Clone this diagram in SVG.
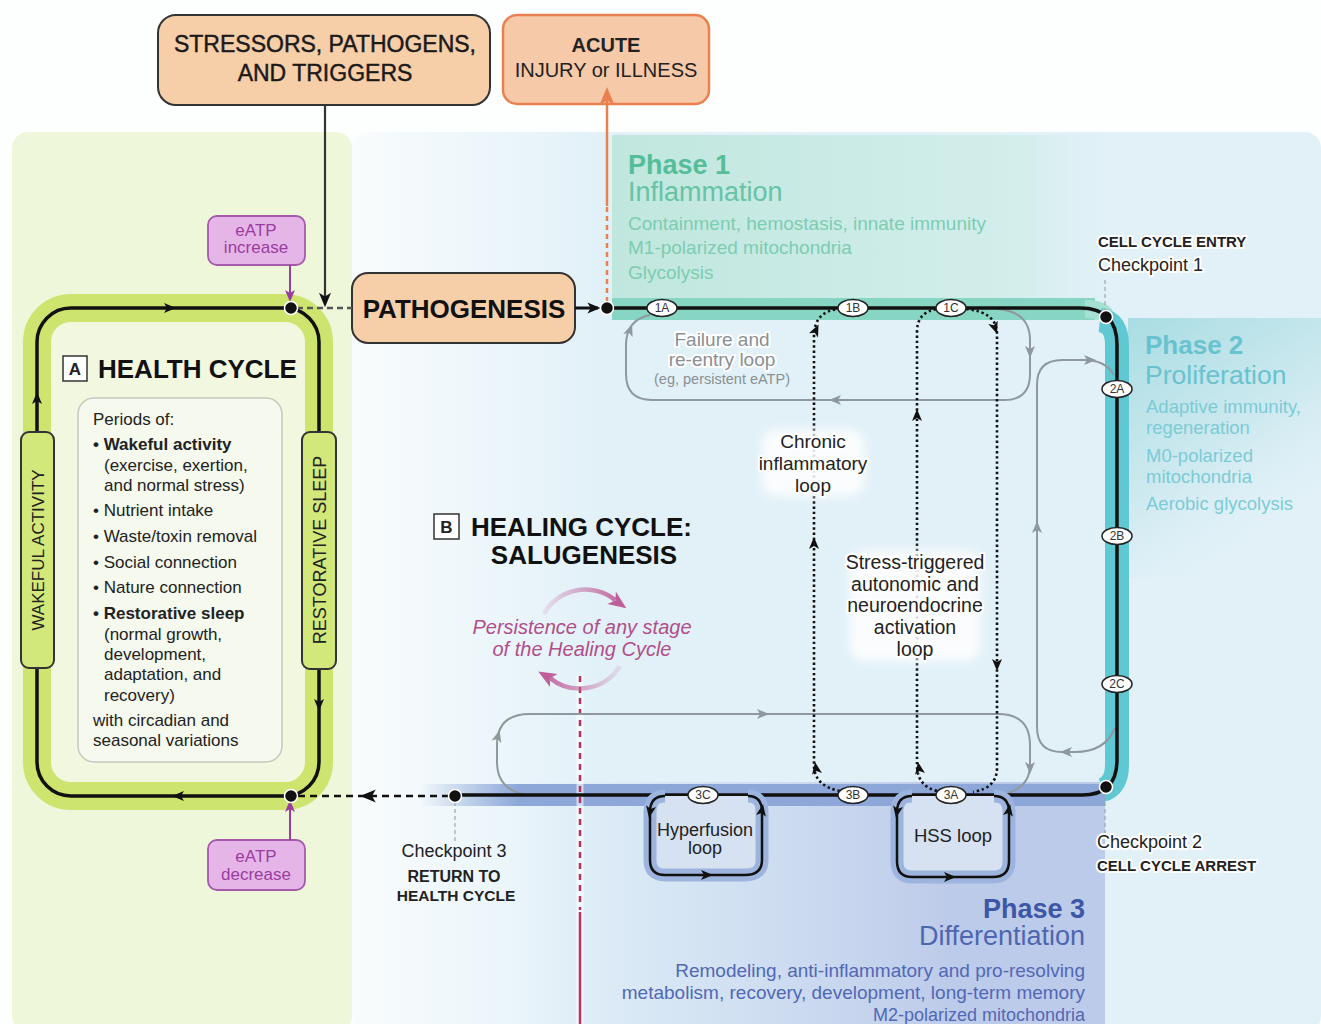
<svg xmlns="http://www.w3.org/2000/svg" width="1321" height="1024" viewBox="0 0 1321 1024">
<defs>
<style>
text{font-family:"Liberation Sans",Arial,sans-serif;}
.t{fill:#222;font-size:17px}
.b{font-weight:bold}
.mid{text-anchor:middle}
.end{text-anchor:end}
.halo{paint-order:stroke;stroke:#fff;stroke-width:4;stroke-linejoin:round}
.gray{fill:none;stroke:#8e989e;stroke-width:2}
.dot{fill:none;stroke:#111;stroke-width:2.6;stroke-dasharray:2.4 2.8}
.track{fill:none;stroke:#111;stroke-width:3.5}
.lab{fill:#fff;stroke:#222;stroke-width:1.5}
.labt{font-size:12px;fill:#333;text-anchor:middle}
.peach{fill:#f6cfa9;stroke:#333;stroke-width:2}
.eatp{fill:#e6b5e8;stroke:#a55aab;stroke-width:1.8}
.eatpt{fill:#9a3ca0;font-size:17px;text-anchor:middle}
.node{fill:#111;stroke:#fff;stroke-width:1.5}
.p1{fill:#55bd9a}
.p1d{fill:#7ccdb1;font-size:19px}
.p2{fill:#69c3cf}
.p2d{fill:#7ccbd6;font-size:18.5px}
.p3{fill:#3c57a5}
.p3d{fill:#5068b5;font-size:19px}
.ckl{fill:none;stroke:#9aa;stroke-width:1.2;stroke-dasharray:4 3}
.glow{fill:#fff;opacity:0.85;filter:url(#soft)}
.heavy{stroke:#1a1a1a;stroke-width:0.45}
</style>
<filter id="soft" x="-30%" y="-30%" width="160%" height="160%"><feGaussianBlur stdDeviation="5"/></filter>
<path id="ah" d="M6,0 L-6,-5 L-3,0 L-6,5 Z"/>
<linearGradient id="bluebg" x1="352" y1="0" x2="600" y2="0" gradientUnits="userSpaceOnUse">
<stop offset="0" stop-color="#f9fcfd"/><stop offset="1" stop-color="#e2f1f8"/>
</linearGradient>
<linearGradient id="p1g" x1="612" y1="0" x2="1125" y2="0" gradientUnits="userSpaceOnUse">
<stop offset="0" stop-color="#c0e7de"/><stop offset="0.8" stop-color="#d3eeec"/><stop offset="1" stop-color="#dff1f4" stop-opacity="0"/>
</linearGradient>
<linearGradient id="p2g" x1="0" y1="0" x2="0.5" y2="1">
<stop offset="0" stop-color="#a9dde3"/><stop offset="0.6" stop-color="#cfeaf0"/><stop offset="1" stop-color="#e2f1f8" stop-opacity="0"/>
</linearGradient>
<linearGradient id="p3g" x1="520" y1="0" x2="950" y2="0" gradientUnits="userSpaceOnUse">
<stop offset="0" stop-color="#c4d3ee" stop-opacity="0"/><stop offset="1" stop-color="#bdcbea"/>
</linearGradient>
<linearGradient id="p3band" x1="420" y1="0" x2="520" y2="0" gradientUnits="userSpaceOnUse">
<stop offset="0" stop-color="#8ca7d8" stop-opacity="0"/><stop offset="1" stop-color="#8ca7d8"/>
</linearGradient>
<linearGradient id="pinkU" x1="540" y1="0" x2="625" y2="0" gradientUnits="userSpaceOnUse">
<stop offset="0" stop-color="#c56fa0" stop-opacity="0.1"/><stop offset="1" stop-color="#c0609a"/>
</linearGradient>
<linearGradient id="pinkL" x1="625" y1="0" x2="540" y2="0" gradientUnits="userSpaceOnUse">
<stop offset="0" stop-color="#c56fa0" stop-opacity="0.1"/><stop offset="1" stop-color="#c0609a"/>
</linearGradient>
</defs>

<!-- backgrounds -->
<rect x="0" y="0" width="1321" height="1024" fill="#fdfefe"/>
<rect x="352" y="132" width="969" height="900" rx="16" fill="url(#bluebg)"/>
<rect x="12" y="132" width="340" height="900" rx="16" fill="#eef7d9"/>
<rect x="612" y="135" width="513" height="185" fill="url(#p1g)"/>
<rect x="1128" y="318" width="193" height="260" fill="url(#p2g)"/>
<rect x="470" y="782" width="635" height="250" fill="url(#p3g)"/>

<!-- track bands -->
<g id="bands">
<rect x="612" y="298" width="483" height="22" fill="#86d6c3"/>
<path d="M1085,309 Q1104,309 1106,318" fill="none" stroke="#a6e0d2" stroke-width="18"/>
<path d="M1100,320 Q1117,322 1117,345 V765 Q1117,786 1102,790" fill="none" stroke="#60c8d3" stroke-width="24"/>
<rect x="420" y="784" width="685" height="22" fill="url(#p3band)"/>
</g>

<!-- health cycle -->
<g id="health-cycle">
<rect x="37" y="308" width="282" height="488" rx="34" fill="#f1f8df" stroke="#cde46f" stroke-width="28"/>
<rect x="37" y="308" width="282" height="488" rx="34" class="track"/>
<use href="#ah" transform="translate(170,308)" fill="#111"/>
<use href="#ah" transform="translate(37,398) rotate(-90)" fill="#111"/>
<use href="#ah" transform="translate(319,705) rotate(90)" fill="#111"/>
<use href="#ah" transform="translate(178,796) rotate(180)" fill="#111"/>
<rect x="63" y="356" width="24" height="25" fill="#fff" stroke="#333" stroke-width="1.5"/>
<text x="75" y="375" class="t b mid" style="font-size:17px">A</text>
<text x="98" y="378" class="t b" style="font-size:26px;fill:#111">HEALTH CYCLE</text>
<rect x="78" y="398" width="204" height="364" rx="16" fill="#f5f9ee" stroke="#c4c8bd" stroke-width="1.5"/>
<text class="t" x="93" y="425">Periods of:</text>
<text class="t b" x="93" y="450">• Wakeful activity</text>
<text class="t" x="104" y="471">(exercise, exertion,</text>
<text class="t" x="104" y="491">and normal stress)</text>
<text class="t" x="93" y="516">• Nutrient intake</text>
<text class="t" x="93" y="542">• Waste/toxin removal</text>
<text class="t" x="93" y="568">• Social connection</text>
<text class="t" x="93" y="593">• Nature connection</text>
<text class="t b" x="93" y="619">• Restorative sleep</text>
<text class="t" x="104" y="640">(normal growth,</text>
<text class="t" x="104" y="660">development,</text>
<text class="t" x="104" y="680">adaptation, and</text>
<text class="t" x="104" y="701">recovery)</text>
<text class="t" x="93" y="726">with circadian and</text>
<text class="t" x="93" y="746">seasonal variations</text>
</g>
<g id="wakeful">
<rect x="21" y="432" width="33" height="236" rx="8" fill="#d3e87a" stroke="#333" stroke-width="2"/>
<text class="t mid" transform="translate(44,550) rotate(-90)" style="font-size:17px">WAKEFUL  ACTIVITY</text>
</g>
<g id="restorative">
<rect x="302" y="432" width="34" height="237" rx="8" fill="#d3e87a" stroke="#333" stroke-width="2"/>
<text class="t mid" transform="translate(326,550) rotate(-90)" style="font-size:18px">RESTORATIVE SLEEP</text>
</g>

<!-- top boxes -->
<g id="stressors">
<rect x="158" y="15" width="332" height="90" rx="18" class="peach"/>
<text class="t mid heavy" x="325" y="52" style="font-size:23px;fill:#1a1a1a">STRESSORS, PATHOGENS,</text>
<text class="t mid heavy" x="325" y="81" style="font-size:23px;fill:#1a1a1a">AND TRIGGERS</text>
</g>
<g id="acute">
<rect x="503" y="15" width="206" height="89" rx="14" fill="#f6caa9" stroke="#e9804f" stroke-width="2.5"/>
<text class="t mid b" x="606" y="52" style="font-size:20px">ACUTE</text>
<text class="t mid" x="606" y="77" style="font-size:20px">INJURY or ILLNESS</text>
</g>
<g id="eatp-increase">
<rect x="208" y="216" width="97" height="49" rx="9" class="eatp"/>
<text class="eatpt" x="256" y="236">eATP</text>
<text class="eatpt" x="256" y="253">increase</text>
</g>
<g id="eatp-decrease">
<rect x="208" y="840" width="97" height="50" rx="9" class="eatp"/>
<text class="eatpt" x="256" y="862">eATP</text>
<text class="eatpt" x="256" y="880">decrease</text>
</g>
<g id="pathogenesis">
<rect x="352" y="273" width="223" height="70" rx="16" class="peach"/>
<text class="t b mid" x="464" y="318" style="font-size:26px;fill:#111">PATHOGENESIS</text>
</g>

<!-- phase texts -->
<g id="phase1">
<text x="628" y="174" class="p1 b" style="font-size:27px">Phase 1</text>
<text x="628" y="201" style="font-size:27px;fill:#66c3a6">Inflammation</text>
<text x="628" y="230" class="p1d">Containment, hemostasis, innate immunity</text>
<text x="628" y="254" class="p1d">M1-polarized mitochondria</text>
<text x="628" y="279" class="p1d">Glycolysis</text>
</g>
<g id="phase2">
<text x="1145" y="354" class="p2 b" style="font-size:26px">Phase 2</text>
<text x="1145" y="384" class="p2" style="font-size:26.5px">Proliferation</text>
<text x="1146" y="413" class="p2d">Adaptive immunity,</text>
<text x="1146" y="434" class="p2d">regeneration</text>
<text x="1146" y="462" class="p2d">M0-polarized</text>
<text x="1146" y="483" class="p2d">mitochondria</text>
<text x="1146" y="510" class="p2d">Aerobic glycolysis</text>
</g>
<g id="phase3">
<text x="1085" y="918" class="p3 b end" style="font-size:27px">Phase 3</text>
<text x="1085" y="945" class="end" style="font-size:27px;fill:#4d66b0">Differentiation</text>
<text x="1085" y="977" class="p3d end">Remodeling, anti-inflammatory and pro-resolving</text>
<text x="1085" y="999" class="p3d end">metabolism, recovery, development, long-term memory</text>
<text x="1085" y="1021" class="p3d end" style="font-size:18px">M2-polarized mitochondria</text>
</g>

<!-- connectors -->
<g id="connectors">
<line x1="580" y1="676" x2="580" y2="1024" stroke="#fff" stroke-width="7" opacity="0.6"/>
<line x1="580" y1="676" x2="580" y2="910" stroke="#b8325e" stroke-width="2.5" stroke-dasharray="6 5"/>
<line x1="580" y1="912" x2="580" y2="1024" stroke="#b8325e" stroke-width="2.5"/>

<path class="gray" d="M650,315 Q626,320 626,345 V374 Q626,400 652,400 H1004 Q1030,400 1030,374 V340 Q1030,312 998,309"/>
<use href="#ah" transform="translate(630,330) rotate(-70)" fill="#8e989e"/>
<use href="#ah" transform="translate(835,400) rotate(180)" fill="#8e989e"/>
<use href="#ah" transform="translate(1030,352) rotate(90)" fill="#8e989e"/>
<path class="gray" d="M1115,728 Q1105,752 1075,752 H1062 Q1037,752 1037,727 V385 Q1037,360 1062,360 H1085 Q1105,360 1114,375"/>
<use href="#ah" transform="translate(1090,360)" fill="#8e989e"/>
<use href="#ah" transform="translate(1037,527) rotate(-90)" fill="#8e989e"/>
<use href="#ah" transform="translate(1066,752) rotate(180)" fill="#8e989e"/>
<path class="gray" d="M1008,793 Q1030,786 1030,765 V745 Q1030,714 998,714 H530 Q497,714 497,745 V762 Q497,790 527,795"/>
<use href="#ah" transform="translate(498,736) rotate(-75)" fill="#8e989e"/>
<use href="#ah" transform="translate(763,714)" fill="#8e989e"/>
<use href="#ah" transform="translate(1030,768) rotate(90)" fill="#8e989e"/>

<path class="track" d="M607,308 H1080 Q1117,308 1117,345 V760 Q1117,795 1082,795 H455"/>
<line x1="297" y1="308" x2="352" y2="308" stroke="#555" stroke-width="2.5" stroke-dasharray="6 4"/>
<line x1="575" y1="308" x2="598" y2="308" stroke="#111" stroke-width="3"/>
<use href="#ah" transform="translate(594,308) scale(1.1)" fill="#111"/>
<line x1="449" y1="796" x2="297" y2="796" stroke="#111" stroke-width="2.5" stroke-dasharray="7 5"/>
<use href="#ah" transform="translate(368,796) rotate(180) scale(1.3)" fill="#111"/>

<line x1="325" y1="105" x2="325" y2="298" stroke="#333" stroke-width="2.2"/>
<use href="#ah" transform="translate(325,300) rotate(90) scale(1.2)" fill="#111"/>
<line x1="607" y1="302" x2="607" y2="205" stroke="#e9804f" stroke-width="2.5" stroke-dasharray="5 4"/>
<line x1="607" y1="206" x2="607" y2="100" stroke="#e9804f" stroke-width="2.5"/>
<use href="#ah" transform="translate(607,96) rotate(-90) scale(1.5)" fill="#e9804f"/>
<line x1="290" y1="265" x2="290" y2="295" stroke="#9a3ca0" stroke-width="2"/>
<use href="#ah" transform="translate(290,296) rotate(90)" fill="#9a3ca0"/>
<line x1="290" y1="840" x2="290" y2="808" stroke="#9a3ca0" stroke-width="2"/>
<use href="#ah" transform="translate(290,806) rotate(-90)" fill="#9a3ca0"/>

<path class="dot" d="M840,791 Q814,786 814,765 V336 Q814,312 838,309"/>
<use href="#ah" transform="translate(816,768) rotate(-100)" fill="#111"/>
<use href="#ah" transform="translate(814,543) rotate(-90)" fill="#111"/>
<use href="#ah" transform="translate(816,330) rotate(-65)" fill="#111"/>
<path class="dot" d="M937,791 Q917,786 917,765 V332 Q917,312 937,309"/>
<use href="#ah" transform="translate(919,768) rotate(-100)" fill="#111"/>
<use href="#ah" transform="translate(917,415) rotate(-90)" fill="#111"/>
<path class="dot" d="M966,309 Q997,312 997,334 V768 Q997,788 973,792"/>
<use href="#ah" transform="translate(995,328) rotate(70)" fill="#111"/>
<use href="#ah" transform="translate(997,665) rotate(90)" fill="#111"/>

<line class="ckl" x1="1105" y1="280" x2="1105" y2="311"/>
<line class="ckl" x1="1105" y1="795" x2="1105" y2="833"/>
<line class="ckl" x1="455" y1="802" x2="455" y2="842"/>

<path d="M544,614 A46,44 0 0 1 615,600" fill="none" stroke="url(#pinkU)" stroke-width="4.5"/>
<use href="#ah" transform="translate(619,603) rotate(35) scale(1.5)" fill="#c0609a"/>
<path d="M620,666 A46,44 0 0 1 550,678" fill="none" stroke="url(#pinkL)" stroke-width="4.5"/>
<use href="#ah" transform="translate(546,676) rotate(-150) scale(1.5)" fill="#c0609a"/>
</g>

<g id="hyperfusion">
<path d="M665,796 Q650,796 650,812 V860 Q650,875 665,875 H745 Q762,875 762,860 V812 Q762,796 748,796" fill="#d6e1f2" stroke="#9db4de" stroke-width="13"/>
<path d="M665,796 Q650,796 650,812 V860 Q650,875 665,875 H745 Q762,875 762,860 V812 Q762,796 748,796" fill="none" stroke="#111" stroke-width="2.5"/>
<use href="#ah" transform="translate(650,812) rotate(100)" fill="#111"/>
<use href="#ah" transform="translate(762,810) rotate(-80)" fill="#111"/>
<use href="#ah" transform="translate(707,875)" fill="#111"/>
<text class="t mid" x="705" y="836" style="font-size:18px">Hyperfusion</text>
<text class="t mid" x="705" y="854" style="font-size:18px">loop</text>
</g>
<g id="hss">
<path d="M912,796 Q897,796 897,812 V861 Q897,877 912,877 H993 Q1009,877 1009,861 V812 Q1009,796 994,796" fill="#d6e1f2" stroke="#9db4de" stroke-width="13"/>
<path d="M912,796 Q897,796 897,812 V861 Q897,877 912,877 H993 Q1009,877 1009,861 V812 Q1009,796 994,796" fill="none" stroke="#111" stroke-width="2.5"/>
<use href="#ah" transform="translate(897,812) rotate(100)" fill="#111"/>
<use href="#ah" transform="translate(1009,810) rotate(-80)" fill="#111"/>
<use href="#ah" transform="translate(950,877)" fill="#111"/>
<text class="t mid" x="953" y="842" style="font-size:18.5px">HSS loop</text>
</g>

<g id="checkpoints">
<circle class="node" cx="291" cy="308" r="6.5"/>
<circle class="node" cx="291" cy="796" r="6.5"/>
<circle class="node" cx="607" cy="308" r="6.5"/>
<circle class="node" cx="1106" cy="317" r="6.5"/>
<circle class="node" cx="1106" cy="787" r="6.5"/>
<circle class="node" cx="455" cy="796" r="6.5"/>
</g>
<g id="stage-labels">
<ellipse class="lab" cx="662" cy="308" rx="15" ry="8.5"/><text class="labt" x="662" y="312">1A</text>
<ellipse class="lab" cx="853" cy="308" rx="15" ry="8.5"/><text class="labt" x="853" y="312">1B</text>
<ellipse class="lab" cx="951" cy="308" rx="15" ry="8.5"/><text class="labt" x="951" y="312">1C</text>
<ellipse class="lab" cx="1117" cy="389" rx="15" ry="8.5"/><text class="labt" x="1117" y="393">2A</text>
<ellipse class="lab" cx="1117" cy="536" rx="15" ry="8.5"/><text class="labt" x="1117" y="540">2B</text>
<ellipse class="lab" cx="1117" cy="684" rx="15" ry="8.5"/><text class="labt" x="1117" y="688">2C</text>
<ellipse class="lab" cx="703" cy="795" rx="15" ry="8.5"/><text class="labt" x="703" y="799">3C</text>
<ellipse class="lab" cx="853" cy="795" rx="15" ry="8.5"/><text class="labt" x="853" y="799">3B</text>
<ellipse class="lab" cx="951" cy="795" rx="15" ry="8.5"/><text class="labt" x="951" y="799">3A</text>
</g>

<g id="failure-label">
<text class="mid halo" x="722" y="346" style="font-size:19px;fill:#8a8f93">Failure and</text>
<text class="mid halo" x="722" y="366" style="font-size:19px;fill:#8a8f93">re-entry loop</text>
<text class="mid" x="722" y="384" style="font-size:14.5px;fill:#8a8f93">(eg, persistent eATP)</text>
</g>
<g id="chronic-label">
<rect class="glow" x="762" y="430" width="102" height="66" rx="14"/>
<text class="t mid halo" x="813" y="448" style="font-size:19px">Chronic</text>
<text class="t mid halo" x="813" y="470" style="font-size:19px">inflammatory</text>
<text class="t mid halo" x="813" y="492" style="font-size:19px">loop</text>
</g>
<g id="stress-label">
<rect class="glow" x="850" y="551" width="130" height="110" rx="14"/>
<text class="t mid halo" x="915" y="569" style="font-size:19.5px">Stress-triggered</text>
<text class="t mid halo" x="915" y="591" style="font-size:19.5px">autonomic and</text>
<text class="t mid halo" x="915" y="612" style="font-size:19.5px">neuroendocrine</text>
<text class="t mid halo" x="915" y="634" style="font-size:19.5px">activation</text>
<text class="t mid halo" x="915" y="656" style="font-size:19.5px">loop</text>
</g>
<g id="healing-title">
<rect x="434" y="514" width="25" height="25" fill="#fff" stroke="#333" stroke-width="1.5"/>
<text x="446.5" y="533" class="t b mid" style="font-size:17px">B</text>
<text x="471" y="536" class="t b" style="font-size:26px;fill:#111">HEALING CYCLE:</text>
<text x="584" y="564" class="t b mid" style="font-size:26px;fill:#111">SALUGENESIS</text>
</g>
<g id="persistence">
<text x="582" y="634" class="mid" style="font-size:20px;font-style:italic;fill:#b04e8a">Persistence of any stage</text>
<text x="582" y="656" class="mid" style="font-size:20px;font-style:italic;fill:#b04e8a">of the Healing Cycle</text>
</g>
<g id="checkpoint1">
<text x="1098" y="247" class="t b halo" style="font-size:15px">CELL CYCLE ENTRY</text>
<text x="1098" y="271" class="t halo" style="font-size:18px">Checkpoint 1</text>
</g>
<g id="checkpoint2">
<text x="1097" y="848" class="t halo" style="font-size:18px">Checkpoint 2</text>
<text x="1097" y="871" class="t b halo" style="font-size:15px">CELL CYCLE ARREST</text>
</g>
<g id="checkpoint3">
<text x="454" y="857" class="t mid" style="font-size:18px">Checkpoint 3</text>
<text x="454" y="882" class="t b mid" style="font-size:16px">RETURN TO</text>
<text x="456" y="901" class="t b mid" style="font-size:15.5px">HEALTH CYCLE</text>
</g>
</svg>
